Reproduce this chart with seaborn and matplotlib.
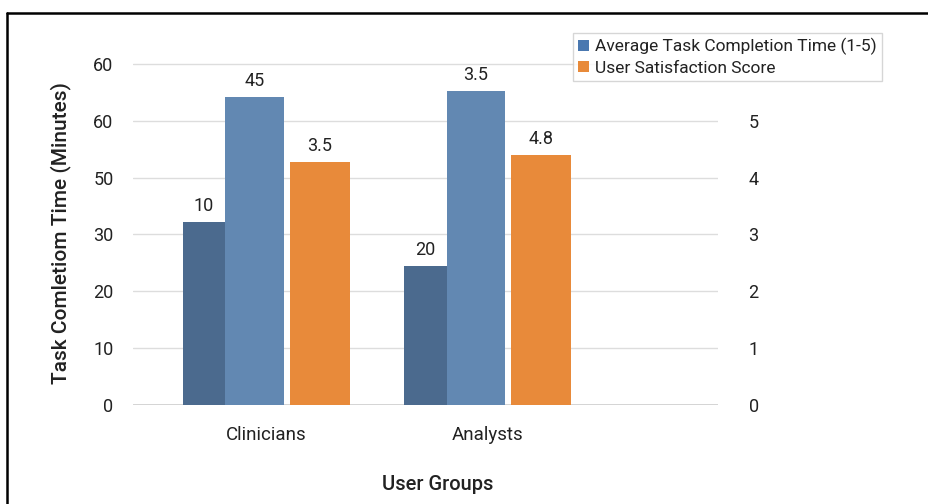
import numpy as np
import pandas as pd
import matplotlib
matplotlib.use("Agg")
from matplotlib import pyplot as plt
from matplotlib.patches import Patch
from matplotlib.lines import Line2D
import seaborn as sns

# data
groups = ["Clinicians", "Analysts"]
dark_vals = [32.2, 24.5]          # left axis
mid_vals = [54.2, 55.3]           # left axis
sat_vals = [4.28, 4.40]           # right axis
dark_labels = ["10", "20"]
mid_labels = ["45", "3.5"]
sat_labels = ["3.5", "4.8"]
left_ticks = [0, 10, 20, 30, 40, 50, 60]
left_ticklabels = ["0", "10", "20", "30", "50", "60", "60"]
right_ticks = [0, 1, 2, 3, 4, 5]

sns.set_style("white")
plt.rcParams['font.family'] = ['Roboto', 'DejaVu Sans']
text_col = "#222222"

c_dark = "#4b6a8e"
c_mid = "#6288b2"
c_orange = "#e88a3a"
c_legend_blue = "#4a78b0"

fig = plt.figure(figsize=(9.29, 5.04), dpi=100)
ax = fig.add_axes([133 / 929, 1 - 405 / 504, (718 - 133) / 929, (405 - 61) / 504])
ax2 = ax.twinx()

pos = np.arange(len(groups))
df = pd.DataFrame({"pos": pos, "dark": dark_vals, "mid": mid_vals, "sat": sat_vals})

bar_kw = dict(native_scale=True, saturation=1, zorder=3, errorbar=None, linewidth=0)
sns.barplot(x=df["pos"] - 0.28, y=df["dark"], width=0.19, color=c_dark, ax=ax, **bar_kw)
sns.barplot(x=df["pos"] - 0.052, y=df["mid"], width=0.266, color=c_mid, ax=ax, **bar_kw)
sns.barplot(x=df["pos"] + 0.243, y=df["sat"], width=0.27, color=c_orange, ax=ax2, **bar_kw)

for cont, labs in zip(ax.containers, [dark_labels, mid_labels]):
    ax.bar_label(cont, labels=labs, padding=5, fontsize=13, color=text_col)
ax2.bar_label(ax2.containers[0], labels=sat_labels, padding=5, fontsize=13, color=text_col)

ax.set_xlim(-0.6, 2.04)
ax.set_ylim(0, 60.5)
ax2.set_ylim(0, 6.05)

ax.set_xticks(pos)
ax.set_xticklabels(groups, fontsize=13.5, color=text_col)
ax.set_xticks([0.5, 1.5], minor=True)
ax.tick_params(axis="x", which="major", length=0, pad=15)
ax.tick_params(axis="x", which="minor", length=5, color="#cccccc", width=1)

ax.set_yticks(left_ticks)
ax.set_yticklabels(left_ticklabels, fontsize=13, color=text_col)
ax.tick_params(axis="y", length=0, pad=14)
ax2.set_yticks(right_ticks)
ax2.set_yticklabels([str(t) for t in right_ticks], fontsize=13, color=text_col)
ax2.tick_params(axis="y", length=0, pad=22)

ax.yaxis.grid(True, color="#dddddd", linewidth=1, zorder=0)
ax.set_axisbelow(True)
ax2.grid(False)
for a in (ax, ax2):
    for s in a.spines.values():
        s.set_visible(False)
    a.set_xlabel("")
    a.set_ylabel("")
ax.axhline(0, color="#cfcfcf", linewidth=1.2, zorder=2)

ax.set_ylabel("Task Comletiom Time (Minutes)", fontsize=15, fontweight="medium",
              color=text_col, labelpad=16)
fig.text(438 / 929, 1 - 485 / 504, "User Groups", fontsize=14.5, fontweight="medium",
         color=text_col, ha="center", va="center")

handles = [Patch(facecolor=c_legend_blue, edgecolor="none"),
           Patch(facecolor=c_orange, edgecolor="none")]
leg = fig.legend(handles, ["Average Task Completion Time (1-5)", "User Satisfaction Score"],
                 loc="upper left", bbox_to_anchor=(573 / 929, 1 - 33 / 504),
                 bbox_transform=fig.transFigure, fontsize=12.5, frameon=True,
                 fancybox=False, borderpad=0.3, handlelength=0.65, handleheight=0.65,
                 handletextpad=0.3, labelspacing=0.3, borderaxespad=0)
leg.get_frame().set_edgecolor("#cccccc")
leg.get_frame().set_linewidth(1)
for t in leg.get_texts():
    t.set_color(text_col)

# outer frame seen at top/left of the picture
x0, y0 = 7 / 929, 1 - 13 / 504
fig.add_artist(Line2D([x0, 1.0], [y0, y0], transform=fig.transFigure, color="black", linewidth=1.8))
fig.add_artist(Line2D([x0, x0], [0.0, y0], transform=fig.transFigure, color="black", linewidth=1.8))

fig.savefig("out.png", dpi=100)
